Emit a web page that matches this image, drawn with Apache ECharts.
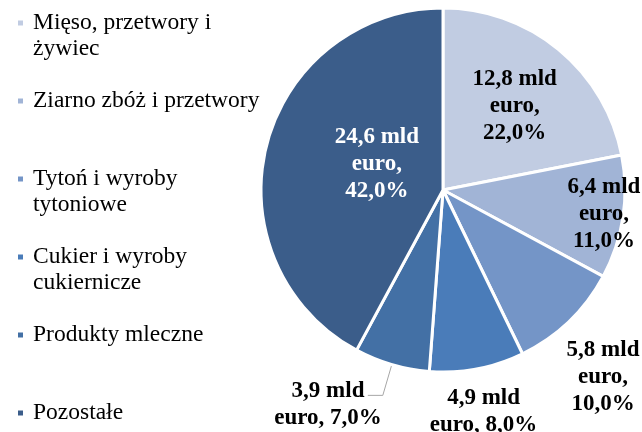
<!DOCTYPE html>
<html>
<head>
<meta charset="utf-8">
<script src="https://cdn.jsdelivr.net/npm/echarts@6/dist/echarts.min.js"></script>
<style>
  html, body { margin: 0; padding: 0; background: #fff; }
  #chart { width: 642px; height: 432px; }
</style>
</head>
<body>
<div id="chart"></div>
<script>
// kategorie (z łamaniem linii jak w legendzie)
const categories = [
  'Mięso, przetwory i\nżywiec',
  'Ziarno zbóż i przetwory',
  'Tytoń i wyroby\ntytoniowe',
  'Cukier i wyroby\ncukiernicze',
  'Produkty mleczne',
  'Pozostałe'
];
// wartość w mld euro
const values = [12.8, 6.4, 5.8, 4.9, 3.9, 24.6];
// udział w %
const shares = [22.0, 11.0, 10.0, 8.0, 7.0, 42.0];

const colors = ['#c1cce2', '#a1b4d6', '#7495c7', '#4a7cb9', '#4370a5', '#3b5d8a'];
const labelColors = ['#000', '#000', '#000', '#000', '#000', '#fff'];
// przesunięcia etykiet wewnętrznych względem środka wycinka
const labelShift = [[12, -11], [68, 10], [95, 119], [23, 129], null, [25, -3]];
const serif = "'Liberation Serif', 'Times New Roman', serif";

function fmt(v) { return v.toFixed(1).replace('.', ','); }

const pieData = categories.map((name, i) => {
  const item = {
    name: name,
    value: values[i],
    itemStyle: { color: colors[i] },
    label: { color: labelColors[i] }
  };
  if (i === 4) {
    item.label = {
      position: 'outside',
      color: '#000',
      padding: [19, 0, 0, 0],
      distanceToLabelLine: -14,
      formatter: '{c|' + fmt(values[i]) + ' mld}\n{c|euro, ' + fmt(shares[i]) + '%}',
      rich: {
        c: { align: 'center', fontSize: 23, fontWeight: 'bold', fontFamily: serif, lineHeight: 27, color: '#000' }
      }
    };
    item.labelLine = { show: true, length: 32, length2: 15, smooth: false, lineStyle: { color: '#a6a6a6', width: 1 } };
  }
  return item;
});

const chart = echarts.init(document.getElementById('chart'));
chart.setOption({
  animation: false,
  legend: {
    orient: 'vertical',
    left: 16,
    top: -16,
    height: 500,
    padding: 0,
    itemGap: 0,
    itemWidth: 7,
    itemHeight: 7,
    icon: 'rect',
    selectedMode: false,
    data: categories,
    // każda pozycja ma 3 linie, ikonka stoi przy pierwszej linii nazwy
    formatter: function (name) {
      return name.indexOf('\n') >= 0 ? ' \n' + name : ' \n' + name + '\n ';
    },
    textStyle: { fontFamily: serif, fontSize: 23.5, lineHeight: 26, color: '#000', padding: [0, 0, 0, 4] }
  },
  series: [
    {
      type: 'pie',
      center: [443, 190],
      radius: 182,
      startAngle: 90,
      clockwise: true,
      avoidLabelOverlap: false,
      emphasis: { disabled: true },
      itemStyle: { borderColor: '#fff', borderWidth: 3 },
      label: {
        show: true,
        position: 'inside',
        fontFamily: serif,
        fontSize: 23,
        fontWeight: 'bold',
        lineHeight: 27,
        align: 'center',
        formatter: function (p) {
          const i = p.dataIndex;
          const sep = i === 3 ? ' ' : '\n';
          return fmt(values[i]) + ' mld\neuro,' + sep + fmt(shares[i]) + '%';
        }
      },
      labelLine: { show: false },
      labelLayout: function (p) {
        const s = labelShift[p.dataIndex];
        if (!s) return {};
        return { dx: s[0], dy: s[1] };
      },
      data: pieData
    }
  ]
});
</script>
</body>
</html>
